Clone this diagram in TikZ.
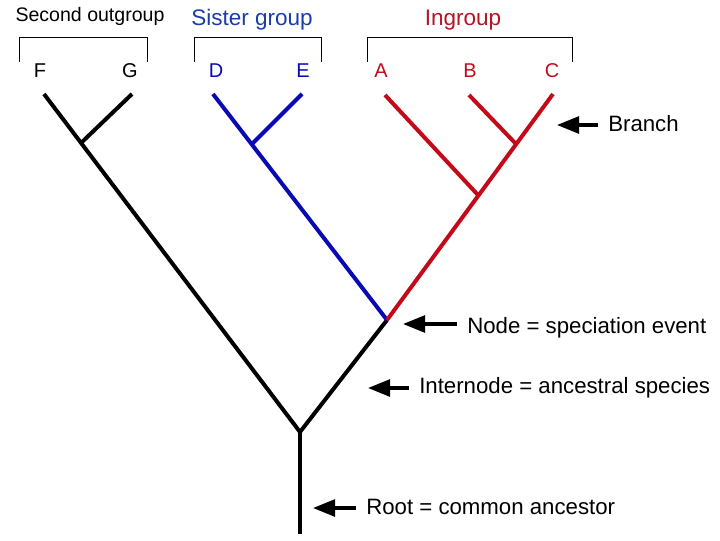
\documentclass[tikz,border=0pt]{standalone}
\usepackage{fontspec}
\setmainfont{Liberation Sans}
\usetikzlibrary{arrows.meta}
\definecolor{sisblue}{RGB}{10,10,180}
\definecolor{ingred}{RGB}{195,10,25}
\definecolor{sistitle}{RGB}{25,60,170}
\definecolor{ingtitle}{RGB}{180,20,35}
\begin{document}
\begin{tikzpicture}[x=0.025cm, y=-0.025cm,
    branch/.style={line width=0.1cm, line join=miter},
    taxon/.style={anchor=base, inner sep=0pt, font=\fontsize{14.2}{16}\selectfont},
    grouptitle/.style={anchor=base, inner sep=0pt, font=\fontsize{16}{19}\selectfont},
    bracket/.style={line width=0.025cm},
    note/.style={anchor=base west, inner sep=0pt, font=\fontsize{15.8}{18}\selectfont},
    pointer/.style={-{Triangle[length=0.55cm, width=0.42cm]}, line width=0.08cm, shorten <=0.25cm},
]
\useasboundingbox (0,0) rectangle (720,540);

% Group titles and brackets
\node[grouptitle, font=\fontsize{13.9}{16}\selectfont] (outTitle) at (90,21) {Second outgroup};
\node[grouptitle, text=sistitle] (sisTitle) at (252,25) {Sister group};
\node[grouptitle, text=ingtitle] (ingTitle) at (463,25) {Ingroup};
\draw[bracket] (19,62) |- (147,37) -- (147,62);
\draw[bracket] (194,62) |- (321,37) -- (321,62);
\draw[bracket] (367,62) |- (572,37) -- (572,62);

% Taxa
\node[taxon] (F) at (40,77) {F};
\node[taxon] (G) at (130,77) {G};
\node[taxon, text=sisblue] (D) at (216,77) {D};
\node[taxon, text=sisblue] (E) at (303,77) {E};
\node[taxon, text=ingred] (A) at (381,77) {A};
\node[taxon, text=ingred] (B) at (470,77) {B};
\node[taxon, text=ingred] (C) at (552,77) {C};

% Tips and speciation nodes
\coordinate (tF) at (44,94);
\coordinate (tG) at (132,94);
\coordinate (tD) at (213,94);
\coordinate (tE) at (302,94);
\coordinate (tA) at (385,95);
\coordinate (tB) at (469,95);
\coordinate (tC) at (553,94);
\coordinate (nFG) at (81,143);
\coordinate (nDE) at (252,144);
\coordinate (nBC) at (516,144);
\coordinate (nABC) at (478,195);
\coordinate (nDEABC) at (387,320);
\coordinate (nRoot) at (300,432);
\coordinate (rootEnd) at (300,534);

% Tree
\draw[branch] (tF) -- (nRoot) -- (nDEABC);
\draw[branch] (nRoot) -- (rootEnd);
\draw[branch] (tG) -- (nFG);
\draw[branch, sisblue] (tD) -- (nDEABC);
\draw[branch, sisblue] (tE) -- (nDE);
\draw[branch, ingred] (tC) -- (nDEABC);
\draw[branch, ingred] (tA) -- (nABC);
\draw[branch, ingred] (tB) -- (nBC);

% Labels
\node[note] (lblBranch) at (608,131) {Branch};
\node[note] (lblNode) at (467,333) {Node = speciation event};
\node[note] (lblInternode) at (419,393) {Internode = ancestral species};
\node[note] (lblRoot) at (366,514) {Root = common ancestor};
\coordinate (aBranch) at (557,125);
\coordinate (aNode) at (403,324);
\coordinate (aInternode) at (368,388);
\coordinate (aRoot) at (313,508);

% Pointers
\draw[pointer] (aBranch -| lblBranch.west) -- (aBranch);
\draw[pointer] (aNode -| lblNode.west) -- (aNode);
\draw[pointer] (aInternode -| lblInternode.west) -- (aInternode);
\draw[pointer] (aRoot -| lblRoot.west) -- (aRoot);
\end{tikzpicture}
\end{document}
